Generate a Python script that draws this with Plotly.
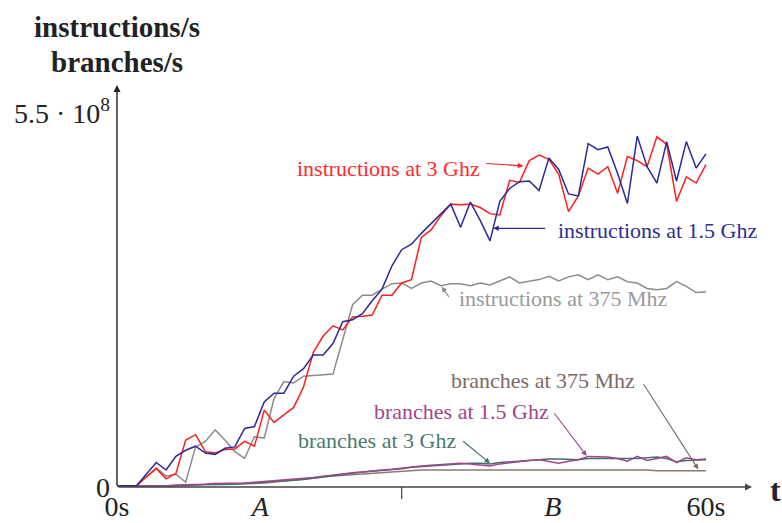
import plotly.graph_objects as go

# time samples (seconds)
t = list(range(61))

# values in units of 1e8 per second
inst_3ghz = [0.02, 0.02, 0.02, 0.15, 0.27, 0.12, 0.20, 0.69, 0.77, 0.52,
             0.50, 0.55, 0.56, 0.67, 0.60, 1.13, 0.95, 1.06, 1.17, 1.47,
             1.98, 2.22, 2.37, 2.31, 2.50, 2.51, 2.53, 2.82, 2.82, 3.00,
             3.05, 3.67, 3.78, 3.99, 4.16, 4.15, 4.16, 4.11, 4.02, 4.00,
             4.51, 4.48, 4.80, 4.88, 4.82, 4.60, 4.05, 4.28, 4.69, 4.60,
             4.71, 4.32, 4.86, 4.80, 4.71, 5.15, 5.04, 4.20, 4.56, 4.47,
             4.74]
inst_15ghz = [0.02, 0.02, 0.02, 0.19, 0.36, 0.25, 0.45, 0.54, 0.60, 0.50,
              0.48, 0.57, 0.59, 0.86, 0.89, 1.25, 1.38, 1.38, 1.63, 1.74,
              1.94, 1.94, 2.11, 2.43, 2.46, 2.55, 2.74, 2.91, 3.25, 3.49,
              3.57, 3.73, 3.87, 4.02, 4.16, 3.82, 4.19, 3.92, 3.62, 4.20,
              4.39, 4.49, 4.50, 4.36, 4.84, 4.67, 4.31, 4.28, 5.05, 4.96,
              5.00, 4.61, 4.17, 5.16, 4.71, 4.47, 5.08, 4.50, 5.08, 4.69,
              4.90]
inst_375mhz = [0.02, 0.02, 0.02, 0.15, 0.28, 0.16, 0.19, 0.07, 0.59, 0.67,
               0.84, 0.69, 0.52, 0.42, 0.74, 0.72, 1.30, 1.55, 1.53, 1.63,
               1.64, 1.64, 1.66, 2.17, 2.68, 2.82, 2.82, 2.91, 2.99, 3.00,
               2.92, 3.00, 3.03, 2.96, 2.99, 2.99, 2.96, 3.00, 2.97, 3.03,
               3.09, 3.00, 3.03, 3.05, 3.10, 3.03, 3.09, 3.12, 3.05, 3.12,
               3.05, 3.09, 3.02, 3.00, 2.92, 2.90, 2.92, 3.02, 2.95, 2.86,
               2.87]
br_3ghz = [0.01, 0.01, 0.01, 0.01, 0.02, 0.02, 0.02, 0.03, 0.03, 0.04,
           0.04, 0.04, 0.04, 0.05, 0.06, 0.07, 0.07, 0.08, 0.09, 0.11,
           0.13, 0.15, 0.17, 0.19, 0.20, 0.22, 0.23, 0.24, 0.25, 0.27,
           0.29, 0.30, 0.32, 0.33, 0.34, 0.35, 0.35, 0.35, 0.34, 0.36,
           0.37, 0.38, 0.40, 0.41, 0.41, 0.41, 0.40, 0.40, 0.42, 0.42,
           0.42, 0.41, 0.41, 0.42, 0.43, 0.44, 0.42, 0.37, 0.39, 0.40,
           0.40]
br_15ghz = [0.01, 0.01, 0.01, 0.02, 0.02, 0.02, 0.03, 0.03, 0.04, 0.04,
            0.05, 0.05, 0.05, 0.06, 0.07, 0.08, 0.09, 0.10, 0.11, 0.12,
            0.14, 0.16, 0.18, 0.19, 0.21, 0.22, 0.24, 0.25, 0.26, 0.28,
            0.30, 0.31, 0.32, 0.33, 0.34, 0.35, 0.34, 0.33, 0.31, 0.34,
            0.36, 0.38, 0.39, 0.40, 0.38, 0.35, 0.38, 0.40, 0.45, 0.45,
            0.44, 0.42, 0.38, 0.45, 0.39, 0.42, 0.45, 0.36, 0.43, 0.40,
            0.41]
br_375mhz = [0.01, 0.01, 0.01, 0.01, 0.01, 0.01, 0.02, 0.02, 0.03, 0.04,
             0.05, 0.04, 0.04, 0.04, 0.05, 0.06, 0.08, 0.09, 0.10, 0.12,
             0.14, 0.15, 0.16, 0.17, 0.18, 0.20, 0.21, 0.22, 0.23, 0.24,
             0.24, 0.25, 0.25, 0.25, 0.26, 0.26, 0.26, 0.25, 0.25, 0.26,
             0.26, 0.26, 0.26, 0.26, 0.25, 0.25, 0.26, 0.26, 0.26, 0.25,
             0.25, 0.25, 0.25, 0.25, 0.25, 0.24, 0.24, 0.24, 0.24, 0.24,
             0.24]

x_tick_vals = [0, 14.6, 44.4, 60]
x_tick_text = ["0s", "<i>A</i>", "<i>B</i>", "60s"]
y_tick_vals = [0, 5.5e8]
y_tick_text = ["0", "5.5 · 10<sup>8</sup>"]
mid_tick = 29

SCALE = 1e8
FONT = "Liberation Serif"

series = [
    ("branches at 375 Mhz", br_375mhz, "#8a7a72"),
    ("branches at 3 Ghz", br_3ghz, "#3f6f66"),
    ("branches at 1.5 Ghz", br_15ghz, "#a3448e"),
    ("instructions at 375 Mhz", inst_375mhz, "#8c8c8c"),
    ("instructions at 3 Ghz", inst_3ghz, "#ff1f1f"),
    ("instructions at 1.5 Ghz", inst_15ghz, "#2a2a98"),
]

fig = go.Figure()
for name, vals, col in series:
    fig.add_trace(go.Scatter(x=t, y=[v * SCALE for v in vals], mode="lines",
                             name=name, line=dict(color=col, width=1.5),
                             hoverinfo="skip"))

# label text: (text, x, y, colour), arrows: (head x, head y, tail x, tail y, colour)
labels = [
    ("instructions at 3 Ghz", 27.66, 4.687, "#ff2a2a"),
    ("instructions at 1.5 Ghz", 55.09, 3.779, "#2e2e8f"),
    ("instructions at 375 Mhz", 45.53, 2.775, "#9a9a9a"),
    ("branches at 375 Mhz", 43.43, 1.563, "#7d6a63"),
    ("branches at 1.5 Ghz", 35.06, 1.107, "#a3448e"),
    ("branches at 3 Ghz", 26.49, 0.691, "#4a7870"),
]
arrows = [
    (41.39, 4.721, 37.49, 4.760, "#ff1f1f"),
    (38.33, 3.804, 43.77, 3.804, "#2a2a98"),
    (33.08, 2.946, 33.92, 2.775, "#8c8c8c"),
    (59.22, 0.260, 53.55, 1.534, "#7d6a63"),
    (47.85, 0.456, 44.44, 1.107, "#a3448e"),
    (38.00, 0.349, 35.11, 0.691, "#3f6f66"),
]

X_END = 64.69
Y_END = 5.912

ann = []
for txt, x, y, col in labels:
    ann.append(dict(x=x, y=y * SCALE, xref="x", yref="y", text=txt,
                    showarrow=False, font=dict(family=FONT, size=22, color=col),
                    xanchor="center", yanchor="middle"))
for hx, hy, tx, ty, col in arrows:
    ann.append(dict(x=hx, y=hy * SCALE, ax=tx, ay=ty * SCALE, xref="x", yref="y",
                    axref="x", ayref="y", text="", showarrow=True,
                    arrowhead=2, arrowsize=1, arrowwidth=1.1, arrowcolor=col,
                    standoff=0, startstandoff=0))
# axis arrows
ann.append(dict(x=X_END, y=0, ax=0, ay=0, xref="x", yref="y", axref="x", ayref="y",
                text="", showarrow=True, arrowhead=2, arrowsize=1, arrowwidth=1.4,
                arrowcolor="#444444", standoff=0))
ann.append(dict(x=0, y=Y_END * SCALE, ax=0, ay=0, xref="x", yref="y", axref="x", ayref="y",
                text="", showarrow=True, arrowhead=2, arrowsize=1, arrowwidth=1.4,
                arrowcolor="#222222", standoff=0))
# axis titles
ann.append(dict(x=0, y=1 + (85 - 26.7) / 402, xref="x", yref="paper",
                text="<b>instructions/s</b>", showarrow=False,
                font=dict(family=FONT, size=29, color="#222222"),
                xanchor="center", yanchor="middle"))
ann.append(dict(x=0, y=1 + (85 - 61.7) / 402, xref="x", yref="paper",
                text="<b>branches/s</b>", showarrow=False,
                font=dict(family=FONT, size=29, color="#222222"),
                xanchor="center", yanchor="middle"))
ann.append(dict(x=1 + (775 - 752) / 635, y=-0.0075, xref="paper", yref="paper",
                text="<b>t</b>", showarrow=False,
                font=dict(family=FONT, size=32, color="#222222"),
                xanchor="center", yanchor="middle"))

fig.update_layout(
    width=782, height=523,
    margin=dict(l=117, r=30, t=85, b=36, autoexpand=False),
    paper_bgcolor="white", plot_bgcolor="white",
    showlegend=False,
    annotations=ann,
    shapes=[dict(type="line", xref="x", yref="paper", x0=mid_tick, x1=mid_tick,
                 y0=0, y1=-12 / 402, line=dict(color="#444444", width=1.2))],
    xaxis=dict(range=[0, X_END], showgrid=False, zeroline=False, showline=False,
               automargin=False,
               tickvals=x_tick_vals, ticktext=x_tick_text, ticks="",
               tickfont=dict(family=FONT, size=28, color="#222222")),
    yaxis=dict(range=[0, Y_END * SCALE], showgrid=False, zeroline=False, showline=False,
               automargin=False,
               tickvals=y_tick_vals, ticktext=y_tick_text, ticks="",
               ticklabelstandoff=6,
               tickfont=dict(family=FONT, size=28, color="#222222")),
)

fig.write_html("out.html")
